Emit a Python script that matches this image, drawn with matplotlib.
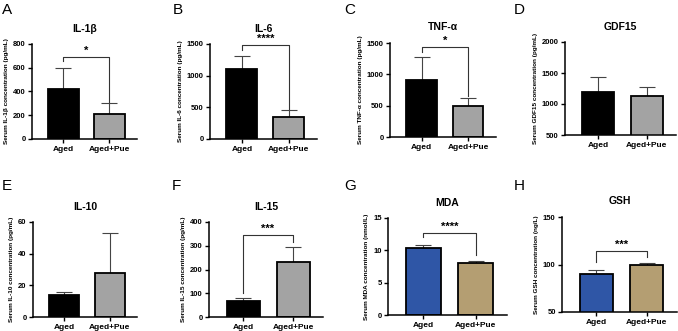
import matplotlib
matplotlib.use("Agg")
import matplotlib.pyplot as plt
import numpy as np

plt.rcParams['font.family'] = ['Liberation Sans', 'DejaVu Sans']
plt.rcParams['font.weight'] = 'bold'

groups = ["Aged", "Aged+Pue"]
letters = ["A", "B", "C", "D", "E", "F", "G", "H"]
titles = ["IL-1β", "IL-6", "TNF-α", "GDF15", "IL-10", "IL-15", "MDA", "GSH"]
ylabels = ["Serum IL-1β concentration (pg/mL)", "Serum IL-6 concentration (pg/mL)",
           "Serum TNF-α concentration (pg/mL)", "Serum GDF15 concentration (pg/mL)",
           "Serum IL-10 concentration (pg/mL)", "Serum IL-15 concentration (pg/mL)",
           "Serum MDA concentration (nmol/L)", "Serum GSH concentration (ng/L)"]

# mean values and (upper) error for Aged / Aged+Pue
means = [[420, 210], [1100, 350], [910, 500], [1200, 1130],
         [14, 28], [67, 230], [10.4, 8.1], [89.5, 99.5]]
errs = [[180, 90], [210, 100], [360, 115], [240, 150],
        [2, 25], [15, 65], [0.5, 0.3], [4.5, 2.0]]

ylims = [(0, 800), (0, 1500), (0, 1500), (500, 2000),
         (0, 60), (0, 400), (0, 15), (50, 150)]
yticks = [[0, 200, 400, 600, 800], [0, 500, 1000, 1500], [0, 500, 1000, 1500],
          [500, 1000, 1500, 2000], [0, 20, 40, 60], [0, 100, 200, 300, 400],
          [0, 5, 10, 15], [50, 100, 150]]

# significance: label, bracket y, left leg bottom, right leg bottom
sig = [("*", 690, 657, 310), ("****", 1490, 1405, 470), ("*", 1436, 1356, 650), None,
       None, ("***", 345, 101, 316), ("****", 12.7, 12.1, 9.3), ("***", 114, 102.6, 108)]

colors_black = ["black", "#a3a3a3"]
colors_ox = ["#2f56a6", "#b49e72"]

# axes rects in pixels: left, right, top, bottom
rects = [(32, 137, 44, 139), (210, 317, 44, 139), (390, 496, 43, 137), (565, 676, 42, 135),
         (33, 137, 222, 317), (209, 323, 222, 317), (388, 507, 218, 315), (562, 677, 217, 312)]
letter_pos = [(2, 14), (173, 14), (344, 14), (514, 14), (2, 190), (172, 190), (344, 190), (514, 190)]

W, H = 678, 331
fig = plt.figure(figsize=(W / 100, H / 100), dpi=100)

for i in range(8):
    l, r, t, b = rects[i]
    ax = fig.add_axes([l / W, 1 - b / H, (r - l) / W, (b - t) / H])
    x = np.arange(2)
    cols = colors_ox if i >= 6 else colors_black
    ax.errorbar(x, means[i], yerr=[[0, 0], errs[i]], fmt='none', ecolor='#444444',
                elinewidth=0.8, capsize=6, capthick=0.8, zorder=1)
    ax.bar(x, means[i], width=0.66, color=cols, edgecolor='black', linewidth=1.3, zorder=2)
    ax.set_xlim(-0.68, 1.6)
    ax.set_ylim(*ylims[i])
    ax.set_yticks(yticks[i])
    ax.set_xticks(x)
    ax.set_xticklabels(groups, fontsize=6, fontweight='bold')
    ax.tick_params(axis='y', labelsize=5.5, width=1, length=3, pad=1.5)
    ax.tick_params(axis='x', width=1, length=3, pad=2)
    for lab in ax.get_yticklabels():
        lab.set_fontweight('bold')
    for s in ['top', 'right']:
        ax.spines[s].set_visible(False)
    for s in ['left', 'bottom']:
        ax.spines[s].set_linewidth(1.1)
    ax.set_ylabel(ylabels[i], fontsize=4.6, fontweight='bold', labelpad=3)
    ax.set_title(titles[i], fontsize=7.5, fontweight='bold', pad=9)
    if sig[i] is not None:
        txt, yb, yl, yr = sig[i]
        ax.plot([0, 0, 1, 1], [yl, yb, yb, yr], color='#333333', lw=0.8, clip_on=False)
        span = ylims[i][1] - ylims[i][0]
        ax.text(0.5, yb + span * 0.01, txt, ha='center', va='bottom', fontsize=8,
                fontweight='bold', clip_on=False)
    fig.text(letter_pos[i][0] / W, 1 - letter_pos[i][1] / H, letters[i],
             fontsize=11, fontweight='normal', ha='left', va='baseline')

fig.savefig("out.png", dpi=100)
